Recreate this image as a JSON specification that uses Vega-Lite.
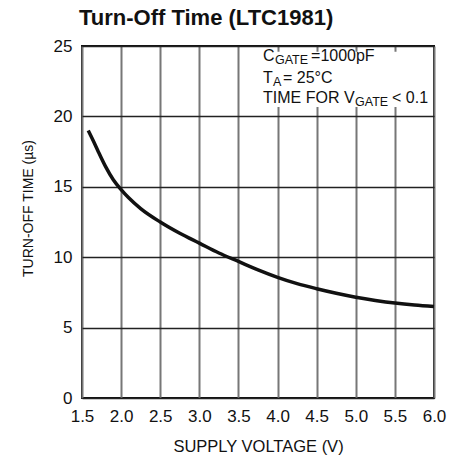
{
  "$schema": "https://vega.github.io/schema/vega-lite/v6.json",
  "width": 352,
  "height": 352,
  "autosize": {"type": "none"},
  "padding": {"left": 82, "top": 46, "right": 27, "bottom": 74},
  "background": "white",
  "title": {
    "text": "Turn-Off Time (LTC1981)",
    "anchor": "start",
    "frame": "group",
    "font": "Liberation Sans",
    "fontSize": 22,
    "fontWeight": "bold",
    "color": "#111",
    "baseline": "alphabetic",
    "offset": 18,
    "dx": -3,
    "dy": 28
  },
  "config": {
    "view": {"stroke": "#111", "strokeWidth": 2},
    "font": "Liberation Sans"
  },
  "data": {
    "values": [
      {"v": 1.58, "t": 19.0},
      {"v": 1.65, "t": 18.2},
      {"v": 1.7, "t": 17.6},
      {"v": 1.8, "t": 16.45},
      {"v": 1.9, "t": 15.5},
      {"v": 2.0, "t": 14.8},
      {"v": 2.1, "t": 14.2},
      {"v": 2.25, "t": 13.45},
      {"v": 2.5, "t": 12.5},
      {"v": 2.75, "t": 11.7},
      {"v": 3.0, "t": 11.0},
      {"v": 3.25, "t": 10.3},
      {"v": 3.5, "t": 9.7},
      {"v": 3.75, "t": 9.1},
      {"v": 4.0, "t": 8.57},
      {"v": 4.25, "t": 8.12},
      {"v": 4.5, "t": 7.76},
      {"v": 4.75, "t": 7.44},
      {"v": 5.0, "t": 7.16},
      {"v": 5.25, "t": 6.93},
      {"v": 5.5, "t": 6.74},
      {"v": 5.75, "t": 6.6},
      {"v": 6.0, "t": 6.5}
    ]
  },
  "layer": [
    {
      "mark": {"type": "line", "color": "#111", "strokeWidth": 3.5, "interpolate": "monotone", "strokeCap": "butt"},
      "encoding": {
        "x": {
          "field": "v", "type": "quantitative",
          "scale": {"domain": [1.5, 6.0], "nice": false, "zero": false},
          "axis": {
            "tickCount": 9,
            "format": ".1f",
            "labelOverlap": false,
            "labelBound": false,
            "labelFlush": false,
            "title": "SUPPLY VOLTAGE (V)",
            "grid": true, "gridColor": "#777", "gridWidth": 2, "gridOpacity": 1,
            "ticks": false, "domain": false,
            "labelFont": "Liberation Sans", "labelFontSize": 17, "labelColor": "#111", "labelPadding": 10,
            "titleFont": "Liberation Sans", "titleFontSize": 16.5, "titleFontWeight": "normal", "titleColor": "#111", "titlePadding": 14
          }
        },
        "y": {
          "field": "t", "type": "quantitative",
          "scale": {"domain": [0, 25], "nice": false},
          "axis": {
            "tickCount": 5,
            "labelOverlap": false,
            "labelBound": false,
            "labelFlush": false,
            "title": "TURN-OFF TIME (µs)",
            "grid": true, "gridColor": "#222", "gridWidth": 1.4, "gridOpacity": 1,
            "ticks": false, "domain": false,
            "labelFont": "Liberation Sans", "labelFontSize": 17, "labelColor": "#111", "labelPadding": 10,
            "titleFont": "Liberation Sans", "titleFontSize": 14, "titleFontWeight": "normal", "titleColor": "#111", "titlePadding": 18,
            "titleY": 162
          }
        }
      }
    },
    {
      "data": {"values": [{}]},
      "mark": {"type": "rect", "fill": "white", "stroke": null},
      "encoding": {
        "x": {"datum": 3.65, "type": "quantitative"},
        "x2": {"datum": 5.97},
        "y": {"datum": 20.67, "type": "quantitative"},
        "y2": {"datum": 24.6}
      }
    },
    {
      "data": {"values": [{}]},
      "mark": {"type": "text", "align": "left", "baseline": "alphabetic", "fontSize": 16, "color": "#111", "font": "Liberation Sans"},
      "encoding": {"x": {"datum": 3.814, "type": "quantitative"}, "y": {"datum": 23.93, "type": "quantitative"}, "text": {"value": "C"}}
    },
    {
      "data": {"values": [{}]},
      "mark": {"type": "text", "align": "left", "baseline": "alphabetic", "fontSize": 12.5, "color": "#111", "font": "Liberation Sans"},
      "encoding": {"x": {"datum": 3.967, "type": "quantitative"}, "y": {"datum": 23.72, "type": "quantitative"}, "text": {"value": "GATE"}}
    },
    {
      "data": {"values": [{}]},
      "mark": {"type": "text", "align": "left", "baseline": "alphabetic", "fontSize": 16, "color": "#111", "font": "Liberation Sans"},
      "encoding": {"x": {"datum": 4.428, "type": "quantitative"}, "y": {"datum": 23.93, "type": "quantitative"}, "text": {"value": "=1000pF"}}
    },
    {
      "data": {"values": [{}]},
      "mark": {"type": "text", "align": "left", "baseline": "alphabetic", "fontSize": 16, "color": "#111", "font": "Liberation Sans"},
      "encoding": {"x": {"datum": 3.814, "type": "quantitative"}, "y": {"datum": 22.39, "type": "quantitative"}, "text": {"value": "T"}}
    },
    {
      "data": {"values": [{}]},
      "mark": {"type": "text", "align": "left", "baseline": "alphabetic", "fontSize": 12.5, "color": "#111", "font": "Liberation Sans"},
      "encoding": {"x": {"datum": 3.942, "type": "quantitative"}, "y": {"datum": 22.18, "type": "quantitative"}, "text": {"value": "A"}}
    },
    {
      "data": {"values": [{}]},
      "mark": {"type": "text", "align": "left", "baseline": "alphabetic", "fontSize": 16, "color": "#111", "font": "Liberation Sans"},
      "encoding": {"x": {"datum": 4.07, "type": "quantitative"}, "y": {"datum": 22.39, "type": "quantitative"}, "text": {"value": "= 25°C"}}
    },
    {
      "data": {"values": [{}]},
      "mark": {"type": "text", "align": "left", "baseline": "alphabetic", "fontSize": 16, "color": "#111", "font": "Liberation Sans"},
      "encoding": {"x": {"datum": 3.814, "type": "quantitative"}, "y": {"datum": 20.93, "type": "quantitative"}, "text": {"value": "TIME FOR V"}}
    },
    {
      "data": {"values": [{}]},
      "mark": {"type": "text", "align": "left", "baseline": "alphabetic", "fontSize": 12.5, "color": "#111", "font": "Liberation Sans"},
      "encoding": {"x": {"datum": 4.99, "type": "quantitative"}, "y": {"datum": 20.72, "type": "quantitative"}, "text": {"value": "GATE"}}
    },
    {
      "data": {"values": [{}]},
      "mark": {"type": "text", "align": "left", "baseline": "alphabetic", "fontSize": 16, "color": "#111", "font": "Liberation Sans"},
      "encoding": {"x": {"datum": 5.463, "type": "quantitative"}, "y": {"datum": 20.93, "type": "quantitative"}, "text": {"value": "< 0.1"}}
    }
  ]
}
